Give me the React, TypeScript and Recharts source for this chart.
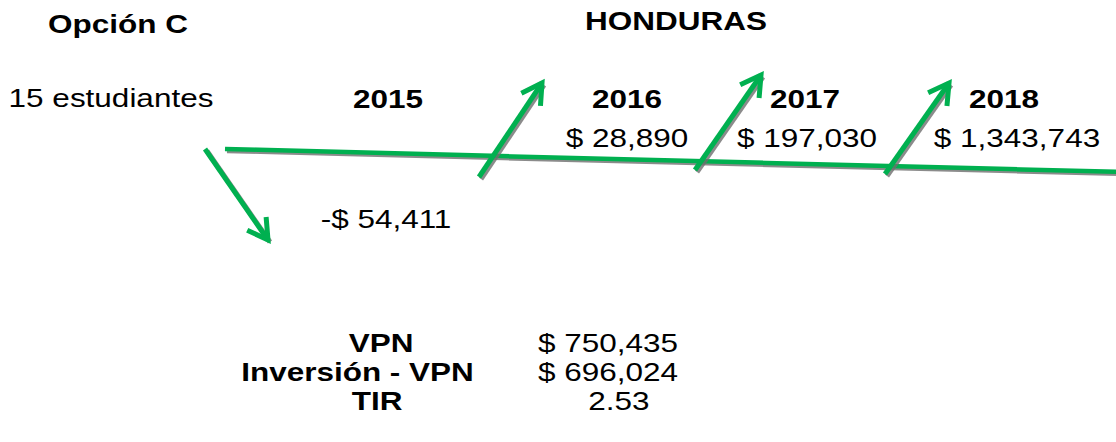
import { ComposedChart, Line, Scatter, XAxis, YAxis } from 'recharts';

// datos del diagrama de flujo
const titulo = 'Opción C';
const pais = 'HONDURAS';
const grupo = '15 estudiantes';
const anios = ['2015', '2016', '2017', '2018'];
const flujos = [-54411, 28890, 197030, 1343743];
const indicadores = ['VPN', 'Inversión - VPN', 'TIR'];
const valoresIndicadores = [750435, 696024, 2.53];

// posiciones en unidades del diagrama (ejes ocultos)
const ANCHO = 1116;
const ALTO = 442;
const lineaTiempo = [
  { x: 225, y: 149 },
  { x: 1122, y: 172 },
];
const baseFlecha = [
  [205, 149],
  [479, 177],
  [695, 170],
  [885, 174],
];
const puntaFlecha = [
  [268, 240],
  [542, 83],
  [761, 75],
  [949, 83],
];
const xAnio = [388, 627, 805, 1004];
const posFlujo = [
  [386, 228],
  [627, 146.5],
  [807, 146.5],
  [1017, 146.5],
];
const xIndicador = [381, 357.5, 377];
const xValor = [608, 608, 619];
const yIndicador = [351.5, 381, 410];

const VERDE = '#00b050';
const ESCALA_X = 1.235;

const moneda = (v: number) => (v < 0 ? '-' : '') + '$ ' + Math.abs(v).toLocaleString('en-US');

const textos = [
  { x: 118, y: 33, texto: titulo, negrita: true },
  { x: 676, y: 30, texto: pais, negrita: true },
  { x: 111, y: 106.5, texto: grupo, negrita: false },
  ...anios.map((a, i) => ({ x: xAnio[i], y: 107.5, texto: a, negrita: true })),
  ...flujos.map((f, i) => ({ x: posFlujo[i][0], y: posFlujo[i][1], texto: moneda(f), negrita: false })),
  ...indicadores.map((t, i) => ({ x: xIndicador[i], y: yIndicador[i], texto: t, negrita: true })),
  ...valoresIndicadores.map((v, i) => ({
    x: xValor[i],
    y: yIndicador[i],
    texto: i < 2 ? moneda(v) : v.toFixed(2),
    negrita: false,
  })),
];

const flechas = flujos.map((f, i) => [
  { x: baseFlecha[i][0], y: baseFlecha[i][1], flujo: f },
  { x: puntaFlecha[i][0], y: puntaFlecha[i][1], flujo: f, bx: baseFlecha[i][0], by: baseFlecha[i][1] },
]);

function Texto(props: any) {
  const { cx, cy, payload } = props;
  return (
    <text
      transform={`translate(${cx},${cy}) scale(${ESCALA_X},1)`}
      textAnchor="middle"
      fontFamily="'Liberation Sans', Arial, sans-serif"
      fontSize={25.5}
      fontWeight={payload.negrita ? 700 : 400}
      fill="#000"
    >
      {payload.texto}
    </text>
  );
}

function Punta(props: any) {
  const { cx, cy, index, points, payload } = props;
  if (index !== 1) return <g key={`d-${index}`} />;
  let dx: number;
  let dy: number;
  if (points && points[0]) {
    dx = cx - points[0].x;
    dy = cy - points[0].y;
  } else {
    dx = payload.x - payload.bx;
    dy = payload.y - payload.by;
  }
  const len = Math.hypot(dx, dy) || 1;
  const ux = -dx / len;
  const uy = -dy / len;
  const ang = (30 * Math.PI) / 180;
  const L = 23;
  const rot = (a: number) => [ux * Math.cos(a) - uy * Math.sin(a), ux * Math.sin(a) + uy * Math.cos(a)];
  const [ax, ay] = rot(ang);
  const [bx, by] = rot(-ang);
  return (
    <polyline
      key={`d-${index}`}
      points={`${cx + ax * L},${cy + ay * L} ${cx},${cy} ${cx + bx * L},${cy + by * L}`}
      fill="none"
      stroke={VERDE}
      strokeWidth={5}
      strokeLinejoin="miter"
    />
  );
}

export default function App() {
  return (
    <div style={{ position: 'absolute', left: 0, top: 0, background: '#fff' }}>
      <style>{`.recharts-line { filter: drop-shadow(2px 2.5px 0.6px rgba(110,110,110,0.8)); }`}</style>
      <ComposedChart width={ANCHO} height={ALTO} margin={{ top: 0, right: 0, bottom: 0, left: 0 }}>
        <XAxis type="number" dataKey="x" domain={[0, ANCHO]} allowDataOverflow hide />
        <YAxis type="number" dataKey="y" domain={[0, ALTO]} reversed allowDataOverflow hide />
        <Line
          data={lineaTiempo}
          dataKey="y"
          stroke={VERDE}
          strokeWidth={4.5}
          dot={false}
          activeDot={false}
          isAnimationActive={false}
        />
        {flechas.map((d, i) => (
          <Line
            key={anios[i]}
            data={d}
            dataKey="y"
            stroke={VERDE}
            strokeWidth={5}
            dot={Punta}
            activeDot={false}
            isAnimationActive={false}
          />
        ))}
        <Scatter data={textos} dataKey="y" shape={Texto} isAnimationActive={false} />
      </ComposedChart>
    </div>
  );
}
